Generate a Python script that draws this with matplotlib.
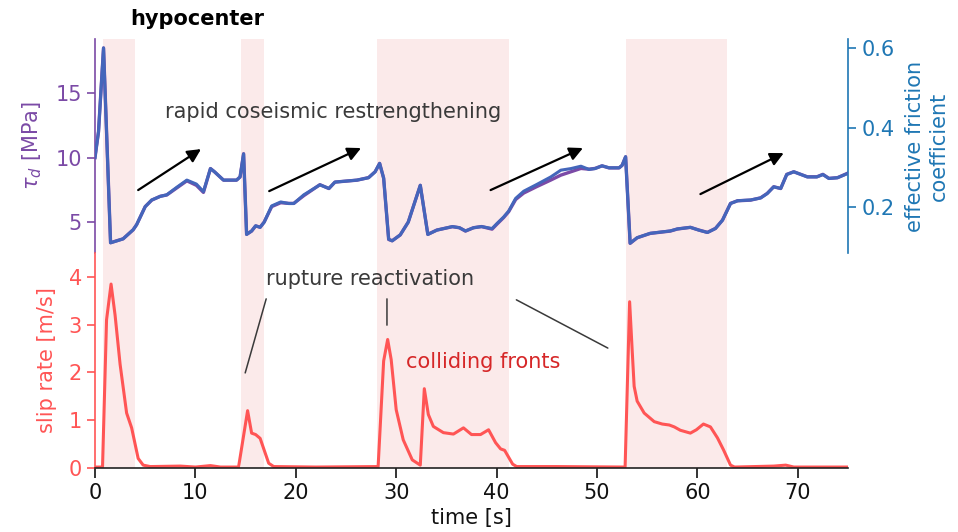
import matplotlib
matplotlib.use("Agg")
import matplotlib.pyplot as plt

# ---------------- data ----------------
t_top = [0, 0.35, 0.85, 1.55, 2.8, 3.8, 4.15, 5.0, 5.65, 6.5, 7.15, 8.15, 9.15,
         10.1, 10.8, 11.5, 11.9, 12.8, 14.1, 14.45, 14.8, 15.1, 15.6, 16.0, 16.45,
         16.85, 17.6, 18.5, 19.3, 19.8, 20.8, 22.4, 23.3, 23.9, 26.1, 27.25, 27.9,
         28.35, 28.75, 29.25, 29.6, 30.4, 31.2, 32.4, 33.15, 34.05, 35.6, 36.3,
         36.9, 37.7, 38.5, 39.55, 40.05, 40.7, 41.2, 41.9, 42.7, 44.0, 45.4, 46.4,
         47.4, 48.4, 49.2, 49.8, 50.5, 51.2, 52.2, 52.5, 52.85, 53.3, 54.0, 55.3,
         57.3, 58.0, 59.3, 60.15, 61.0, 61.8, 62.5, 63.3, 64.0, 65.3, 66.3, 66.95,
         67.6, 68.3, 68.9, 69.6, 70.95, 71.9, 72.5, 73.1, 73.95, 75.0]

tau_d = [10.0, 12.0, 18.5, 3.4, 3.7, 4.4, 4.8, 6.2, 6.7, 7.0, 7.1, 7.65, 8.2,
         7.85, 7.3, 9.15, 8.9, 8.25, 8.25, 8.5, 10.3, 4.05, 4.3, 4.7, 4.6,
         5.0, 6.2, 6.5, 6.45, 6.45, 7.05, 7.9, 7.6, 8.1, 8.25, 8.45, 8.9,
         9.55, 8.4, 3.65, 3.55, 4.0, 5.0, 7.85, 4.05, 4.38, 4.64, 4.56,
         4.3, 4.56, 4.65, 4.45, 4.85, 5.35, 5.8, 6.75, 7.25, 7.75, 8.26, 8.64,
         8.9, 9.16, 9.1, 9.16, 9.36, 9.2, 9.2, 9.4, 10.06, 3.35, 3.78, 4.12,
         4.3, 4.46, 4.59, 4.38, 4.2, 4.51, 5.15, 6.45, 6.65, 6.7, 6.88, 7.22,
         7.74, 7.6, 8.7, 8.9, 8.51, 8.51, 8.7, 8.39, 8.44, 8.8]

mu_eff = [0.325, 0.390, 0.601, 0.110, 0.120, 0.143, 0.156, 0.201, 0.218, 0.227, 0.231, 0.250, 0.268,
          0.258, 0.239, 0.297, 0.289, 0.268, 0.268, 0.276, 0.334, 0.131, 0.140, 0.153, 0.149,
          0.162, 0.203, 0.213, 0.209, 0.209, 0.231, 0.256, 0.247, 0.263, 0.268, 0.274, 0.289,
          0.310, 0.273, 0.119, 0.115, 0.130, 0.162, 0.255, 0.131, 0.142, 0.151, 0.148,
          0.140, 0.148, 0.151, 0.146, 0.159, 0.175, 0.190, 0.222, 0.240, 0.257, 0.276, 0.293,
          0.297, 0.303, 0.295, 0.297, 0.304, 0.299, 0.299, 0.305, 0.327, 0.109, 0.123, 0.134,
          0.140, 0.145, 0.149, 0.142, 0.136, 0.146, 0.167, 0.209, 0.216, 0.218, 0.223, 0.234,
          0.251, 0.247, 0.282, 0.289, 0.276, 0.276, 0.282, 0.272, 0.274, 0.285]

t_slip = [0, 0.75, 1.15, 1.6, 2.0, 2.5, 3.15, 3.65, 4.3, 4.8, 5.5, 8.5, 10.0, 11.5,
          12.5, 14.3, 15.2, 15.6, 16.0, 16.45, 17.3, 17.8, 22.0, 28.2, 28.75, 29.15,
          29.5, 30.0, 30.7, 31.6, 32.4, 32.8, 33.2, 33.7, 34.7, 35.7, 36.7, 37.5,
          38.4, 39.2, 39.9, 40.4, 40.8, 41.6, 42.0, 46.0, 52.8, 53.25, 53.5, 53.7,
          54.0, 54.7, 55.7, 56.5, 57.2, 57.7, 58.3, 59.3, 59.9, 60.6, 61.3, 62.0,
          62.6, 63.3, 63.7, 67.6, 68.8, 69.6, 75.0]

slip_rate = [0.02, 0.02, 3.1, 3.85, 3.2, 2.17, 1.15, 0.84, 0.2, 0.06, 0.03, 0.04, 0.02, 0.05,
             0.02, 0.02, 1.2, 0.73, 0.7, 0.62, 0.1, 0.03, 0.02, 0.03, 2.24, 2.69,
             2.27, 1.22, 0.59, 0.17, 0.06, 1.66, 1.12, 0.87, 0.74, 0.71, 0.84, 0.7,
             0.7, 0.8, 0.53, 0.4, 0.37, 0.08, 0.03, 0.03, 0.02, 3.48, 2.48, 1.71,
             1.4, 1.15, 0.97, 0.92, 0.9, 0.86, 0.79, 0.73, 0.8, 0.92, 0.86, 0.63,
             0.38, 0.06, 0.02, 0.04, 0.06, 0.02, 0.02]

span_start = [0.8, 14.5, 28.1, 52.9]
span_end = [4.0, 16.8, 41.2, 62.9]

x_ticks = [0, 10, 20, 30, 40, 50, 60, 70]
tau_ticks = [5, 10, 15]
mu_ticks = [0.2, 0.4, 0.6]
slip_ticks = [0, 1, 2, 3, 4]

# ---------------- styling ----------------
PURPLE = "#7b4aa6"
BLUE = "#1f77b4"
BLUE_LINE = "#4466bb"
RED = "#ff5555"
DARKRED = "#d62728"
SHADE = "#fbeaea"
GREY = "#3a3a3a"
FS = 15

fig = plt.figure(figsize=(9.58, 5.32), dpi=100)
ax1 = fig.add_axes([0.09916, 0.52444, 0.78601, 0.40226])
ax2 = fig.add_axes([0.09916, 0.12030, 0.78601, 0.40414], sharex=ax1)
ax1r = ax1.twinx()

for ax in (ax1, ax2):
    for a, b in zip(span_start, span_end):
        ax.axvspan(a, b, color=SHADE, lw=0, zorder=0)

ax1.plot(t_top, tau_d, color=PURPLE, lw=2.4, zorder=2)
ax1r.plot(t_top, mu_eff, color=BLUE_LINE, lw=2.2, zorder=3)
ax2.plot(t_slip, slip_rate, color=RED, lw=2.2, zorder=2)

ax1.set_xlim(0, 75)
ax1.set_ylim(2.6, 19.2)
ax1r.set_ylim(2.6 / 30.8, 19.2 / 30.8)
ax2.set_ylim(0, 4.5)

# top axes
for s in ("top", "bottom", "right"):
    ax1.spines[s].set_visible(False)
ax1.spines["left"].set_color(PURPLE)
ax1.spines["left"].set_linewidth(1.2)
ax1.tick_params(axis="x", bottom=False, labelbottom=False)
ax1.tick_params(axis="y", colors=PURPLE, labelsize=FS, length=6, width=1.2)
ax1.set_yticks(tau_ticks)
ax1.set_ylabel(r"$\tau_d$ [MPa]", color=PURPLE, fontsize=FS)
ax1.yaxis.set_label_coords(-0.068, 0.5)

# twin axes
for s in ("top", "bottom", "left"):
    ax1r.spines[s].set_visible(False)
ax1r.spines["right"].set_color(BLUE)
ax1r.spines["right"].set_linewidth(1.2)
ax1r.tick_params(axis="y", colors=BLUE, labelsize=FS, length=6, width=1.2)
ax1r.set_yticks(mu_ticks)
ax1r.set_yticklabels([f"{v:.1f}" for v in mu_ticks])
ax1r.set_ylabel("effective friction\ncoefficient", color=BLUE, fontsize=FS)
ax1r.yaxis.set_label_coords(1.076, 0.5)

# bottom axes
for s in ("top", "right"):
    ax2.spines[s].set_visible(False)
ax2.spines["left"].set_color(RED)
ax2.spines["left"].set_linewidth(1.2)
ax2.spines["bottom"].set_color("#222222")
ax2.spines["bottom"].set_linewidth(1.2)
ax2.tick_params(axis="y", colors=RED, labelsize=FS, length=6, width=1.2)
ax2.tick_params(axis="x", colors="#111111", labelsize=FS, length=7, width=1.2)
ax2.set_yticks(slip_ticks)
ax2.set_xticks(x_ticks)
ax2.set_ylabel("slip rate [m/s]", color=RED, fontsize=FS)
ax2.yaxis.set_label_coords(-0.050, 0.5)
ax2.set_xlabel("time [s]", fontsize=FS, color="#111111")
ax2.xaxis.set_label_coords(0.5, -0.185)

# title-like label
ax1.text(0.0465, 1.065, "hypocenter", transform=ax1.transAxes, fontsize=FS,
         fontweight="bold", ha="left", va="baseline")

# annotations (top)
ax1.text(6.98, 13.06, "rapid coseismic restrengthening", color=GREY, fontsize=FS,
         ha="left", va="baseline", zorder=5)
arrow_kw = dict(arrowstyle="-|>", color="black", lw=1.6, mutation_scale=20,
                shrinkA=0, shrinkB=0)
for (x0, y0), (x1, y1) in [((4.3, 7.48), (10.56, 10.66)),
                           ((17.35, 7.40), (26.5, 10.74)),
                           ((39.4, 7.48), (48.6, 10.74)),
                           ((60.3, 7.17), (68.6, 10.35))]:
    ax1.annotate("", xy=(x1, y1), xytext=(x0, y0), arrowprops=arrow_kw, zorder=5)

# annotations (bottom)
ax2.text(17.05, 3.82, "rupture reactivation", color=GREY, fontsize=FS,
         ha="left", va="baseline")
line_kw = dict(arrowstyle="-", color=GREY, lw=1.1, shrinkA=0, shrinkB=0)
for (x0, y0), (x1, y1) in [((17.05, 3.54), (14.96, 1.99)),
                           ((29.08, 3.54), (29.08, 2.99)),
                           ((41.97, 3.52), (51.08, 2.51))]:
    ax2.annotate("", xy=(x1, y1), xytext=(x0, y0), arrowprops=line_kw)
ax2.text(31.0, 2.1, "colliding fronts", color=DARKRED, fontsize=FS,
         ha="left", va="baseline")

fig.savefig("out.png", dpi=100)
